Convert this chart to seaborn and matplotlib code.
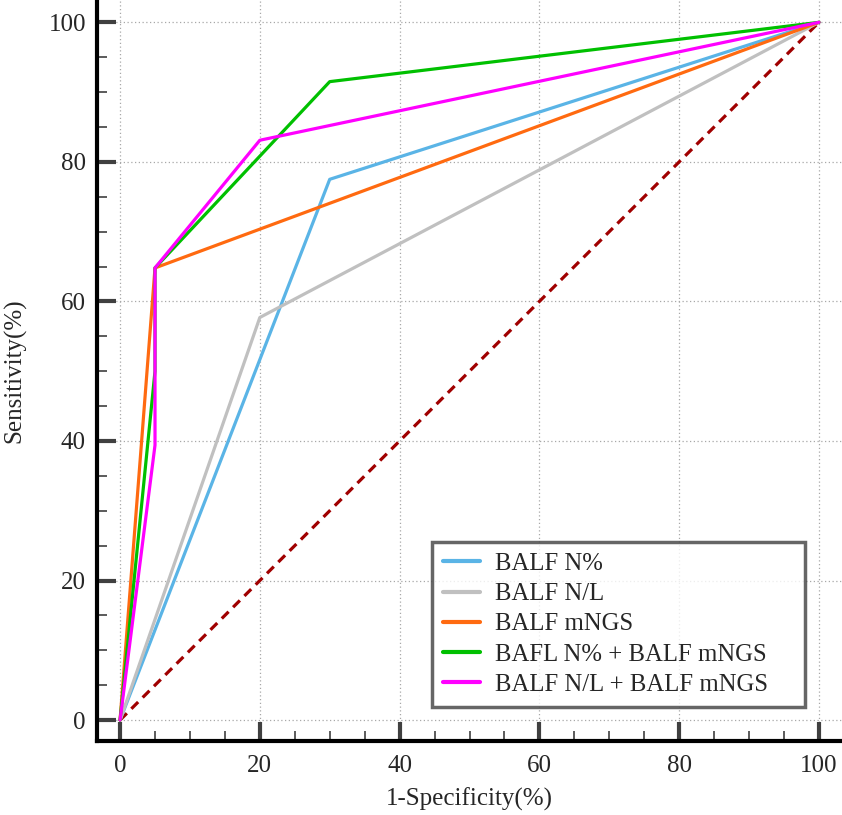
import matplotlib
matplotlib.use("Agg")
import matplotlib.pyplot as plt
import seaborn as sns
import pandas as pd
from matplotlib.ticker import MultipleLocator

series_names = ["BALF N%", "BALF N/L", "BALF mNGS",
                "BAFL N% + BALF mNGS", "BALF N/L + BALF mNGS"]
fpr_n_pct = [0, 30, 100]
tpr_n_pct = [0, 77.5, 100]
fpr_nl = [0, 20, 100]
tpr_nl = [0, 57.7, 100]
fpr_mngs = [0, 5, 100]
tpr_mngs = [0, 64.8, 100]
fpr_combo1 = [0, 5, 5, 30, 100]
tpr_combo1 = [0, 50.0, 64.8, 91.5, 100]
fpr_combo2 = [0, 5, 5, 20, 100]
tpr_combo2 = [0, 39.4, 64.8, 83.1, 100]
diag = [0, 100]
colors = ["#5AB4E6", "#C0C0C0", "#FF6A10", "#00C000", "#FF00FF"]

xs = [fpr_n_pct, fpr_nl, fpr_mngs, fpr_combo1, fpr_combo2]
ys = [tpr_n_pct, tpr_nl, tpr_mngs, tpr_combo1, tpr_combo2]
rows = []
for name, xv, yv in zip(series_names, xs, ys):
    for i, (a, b) in enumerate(zip(xv, yv)):
        rows.append({"series": name, "order": i, "fpr": a, "tpr": b})
df = pd.DataFrame(rows)

sns.set_style("white")
plt.rcParams["font.family"] = ["Liberation Serif", "DejaVu Serif"]

fig = plt.figure(figsize=(8.42, 8.15), dpi=100)
ax = fig.add_axes([97 / 842, (815 - 741) / 815, 1 - 97 / 842, 741 / 815])

ax.plot(diag, diag, color="#A00000", lw=2.3, ls=(0, (3, 2)), zorder=1)
sns.lineplot(data=df, x="fpr", y="tpr", hue="series", hue_order=series_names,
             palette=colors, sort=False, estimator=None, units="series",
             lw=2.3, ax=ax, zorder=3)

ax.set_xlim(-3.3, 103.3)
ax.set_ylim(-3.0, 103.2)
ax.xaxis.set_major_locator(MultipleLocator(20))
ax.yaxis.set_major_locator(MultipleLocator(20))
ax.xaxis.set_minor_locator(MultipleLocator(5))
ax.yaxis.set_minor_locator(MultipleLocator(5))
ax.grid(True, which="major", color="#A8A8A8", ls=(0, (1, 2)), lw=0.9, zorder=0)
ax.set_axisbelow(True)

for s in ["top", "right"]:
    ax.spines[s].set_visible(False)
for s in ["left", "bottom"]:
    ax.spines[s].set_linewidth(3)
    ax.spines[s].set_color("black")

ax.tick_params(which="both", bottom=True, left=True, top=False, right=False)
ax.tick_params(which="major", direction="in", length=14, width=3,
               color="#404040", labelsize=18, pad=8)
ax.tick_params(which="minor", direction="in", length=7, width=1.2,
               color="#404040")
ax.tick_params(axis="x", which="major", pad=10)

ax.set_xlabel("1-Specificity(%)", fontsize=18, labelpad=8)
ax.set_ylabel("Sensitivity(%)", fontsize=18, labelpad=16)

leg = ax.legend(loc="lower left", bbox_to_anchor=(0.4497, 0.0459, 0.5006, 0.2),
                mode="expand", borderaxespad=0, fontsize=17.8, frameon=True,
                fancybox=False, handlelength=1.5, handletextpad=0.6,
                labelspacing=0.32, borderpad=0.45)
leg.get_frame().set_edgecolor("#404040")
leg.get_frame().set_linewidth(2.5)
for line in leg.get_lines():
    line.set_linewidth(3)

fig.savefig("out.png", dpi=100)
